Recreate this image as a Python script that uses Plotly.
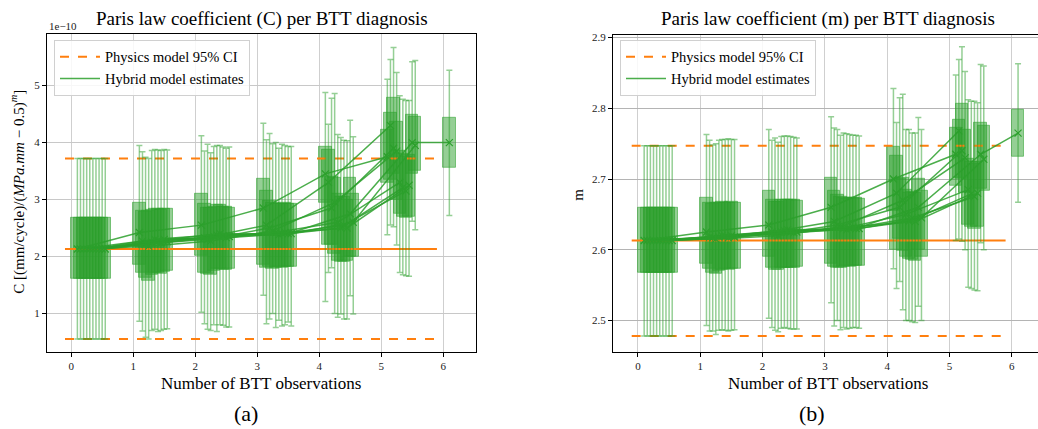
import plotly.graph_objects as go

# ---------------- data ----------------
obs = [0, 1, 2, 3, 4, 5, 6]
traj_ids = [
    [0, 1, 2, 3, 4, 5, 6, 7, 8, 9],
    [0, 1, 2, 3, 4, 5, 6, 7, 8, 9],
    [0, 1, 2, 3, 4, 5, 6, 7, 8, 9],
    [0, 1, 2, 3, 4, 5, 6, 7, 8, 9],
    [0, 1, 2, 3, 4, 5, 6, 7, 8, 9],
    [0, 1, 2, 3, 4, 5, 6, 7, 8, 9],
    [8],
]

# Paris law C (x1e-10)
C_mean = [
    [2.13, 2.13, 2.13, 2.13, 2.13, 2.13, 2.13, 2.13, 2.13, 2.13],
    [2.42, 2.27, 2.22, 2.18, 2.25, 2.30, 2.28, 2.24, 2.30, 2.26],
    [2.55, 2.33, 2.30, 2.27, 2.35, 2.38, 2.40, 2.36, 2.33, 2.35],
    [2.85, 2.55, 2.50, 2.45, 2.42, 2.38, 2.40, 2.42, 2.40, 2.40],
    [3.45, 3.30, 2.85, 2.95, 2.60, 2.50, 2.55, 2.50, 2.75, 2.60],
    [3.75, 4.30, 3.90, 3.85, 3.30, 3.21, 3.15, 3.25, 4.00, 3.95],
    [4.00],
]
C_q1 = [
    [1.60, 1.60, 1.60, 1.60, 1.60, 1.60, 1.60, 1.60, 1.60, 1.60],
    [1.85, 1.72, 1.62, 1.58, 1.68, 1.72, 1.72, 1.70, 1.73, 1.74],
    [2.02, 1.72, 1.70, 1.68, 1.75, 1.78, 1.78, 1.76, 1.77, 1.78],
    [1.85, 1.80, 1.82, 1.78, 1.80, 1.82, 1.80, 1.81, 1.82, 1.82],
    [2.95, 2.20, 2.20, 2.05, 1.92, 1.90, 1.90, 1.92, 2.00, 2.00],
    [3.30, 3.35, 3.45, 3.00, 2.75, 2.70, 2.68, 2.70, 3.45, 3.50],
    [3.55],
]
C_q3 = [
    [2.68, 2.68, 2.68, 2.68, 2.68, 2.68, 2.68, 2.68, 2.68, 2.68],
    [2.95, 2.80, 2.78, 2.80, 2.82, 2.84, 2.83, 2.82, 2.84, 2.83],
    [3.10, 2.92, 2.85, 2.86, 2.88, 2.90, 2.90, 2.88, 2.87, 2.86],
    [3.37, 3.16, 2.98, 2.95, 2.93, 2.92, 2.93, 2.94, 2.92, 2.92],
    [3.93, 3.88, 3.40, 3.38, 3.10, 3.05, 3.05, 3.00, 3.38, 3.10],
    [4.22, 4.52, 4.78, 4.37, 3.85, 3.80, 3.75, 3.78, 4.48, 4.45],
    [4.43],
]
C_lo = [
    [0.55, 0.55, 0.55, 0.55, 0.55, 0.55, 0.55, 0.55, 0.55, 0.55],
    [0.86, 0.69, 0.58, 0.55, 0.70, 0.72, 0.68, 0.70, 0.72, 0.73],
    [1.02, 0.82, 0.72, 0.70, 0.80, 0.68, 0.80, 0.79, 0.76, 0.76],
    [1.32, 0.82, 0.90, 1.00, 0.75, 0.88, 0.78, 0.80, 0.85, 0.78],
    [1.21, 1.72, 1.80, 1.00, 0.93, 0.99, 0.90, 0.90, 1.31, 0.99],
    [2.38, 2.55, 2.52, 2.20, 1.72, 1.68, 1.66, 1.65, 2.62, 2.47],
    [2.72],
]
C_hi = [
    [3.72, 3.72, 3.72, 3.72, 3.72, 3.72, 3.72, 3.72, 3.72, 3.72],
    [3.95, 3.84, 3.74, 3.72, 3.86, 3.88, 3.87, 3.86, 3.88, 3.87],
    [4.12, 3.85, 3.97, 3.82, 3.93, 3.95, 3.95, 3.92, 3.90, 3.92],
    [4.34, 4.05, 4.16, 3.98, 4.00, 3.90, 3.97, 3.95, 3.93, 3.93],
    [4.88, 4.32, 4.78, 4.86, 4.14, 4.09, 4.04, 4.03, 4.39, 4.10],
    [5.11, 5.46, 5.67, 5.23, 4.82, 4.76, 4.74, 4.74, 5.42, 5.44],
    [5.27],
]
C_phys = [0.55, 2.13, 3.72]   # lower CI, mean, upper CI

# Paris law m
m_mean = [
    [2.613, 2.613, 2.613, 2.613, 2.613, 2.613, 2.613, 2.613, 2.613, 2.613],
    [2.625, 2.618, 2.617, 2.615, 2.618, 2.620, 2.619, 2.617, 2.620, 2.618],
    [2.635, 2.625, 2.622, 2.620, 2.625, 2.627, 2.628, 2.625, 2.624, 2.625],
    [2.660, 2.640, 2.635, 2.632, 2.630, 2.628, 2.630, 2.632, 2.630, 2.630],
    [2.700, 2.680, 2.660, 2.670, 2.650, 2.640, 2.645, 2.640, 2.660, 2.645],
    [2.735, 2.768, 2.740, 2.730, 2.685, 2.679, 2.675, 2.680, 2.735, 2.728],
    [2.765],
]
m_q1 = [
    [2.567, 2.567, 2.567, 2.567, 2.567, 2.567, 2.567, 2.567, 2.567, 2.567],
    [2.580, 2.573, 2.568, 2.566, 2.570, 2.572, 2.573, 2.572, 2.573, 2.573],
    [2.590, 2.575, 2.572, 2.571, 2.574, 2.575, 2.575, 2.574, 2.575, 2.576],
    [2.580, 2.576, 2.575, 2.574, 2.576, 2.577, 2.576, 2.577, 2.578, 2.578],
    [2.655, 2.600, 2.615, 2.598, 2.590, 2.587, 2.586, 2.585, 2.600, 2.590],
    [2.690, 2.702, 2.700, 2.680, 2.635, 2.632, 2.630, 2.633, 2.686, 2.684],
    [2.731],
]
m_q3 = [
    [2.660, 2.660, 2.660, 2.660, 2.660, 2.660, 2.660, 2.660, 2.660, 2.660],
    [2.674, 2.667, 2.665, 2.667, 2.667, 2.668, 2.667, 2.667, 2.668, 2.667],
    [2.683, 2.671, 2.668, 2.668, 2.670, 2.671, 2.671, 2.670, 2.670, 2.669],
    [2.702, 2.683, 2.678, 2.675, 2.673, 2.672, 2.673, 2.674, 2.673, 2.672],
    [2.745, 2.733, 2.700, 2.702, 2.685, 2.680, 2.682, 2.680, 2.700, 2.683],
    [2.772, 2.784, 2.807, 2.770, 2.728, 2.725, 2.722, 2.724, 2.779, 2.775],
    [2.798],
]
m_lo = [
    [2.478, 2.478, 2.478, 2.478, 2.478, 2.478, 2.478, 2.478, 2.478, 2.478],
    [2.493, 2.485, 2.485, 2.480, 2.486, 2.487, 2.486, 2.485, 2.486, 2.487],
    [2.503, 2.490, 2.486, 2.484, 2.489, 2.490, 2.489, 2.488, 2.488, 2.488],
    [2.525, 2.492, 2.500, 2.487, 2.490, 2.488, 2.489, 2.490, 2.490, 2.489],
    [2.573, 2.545, 2.555, 2.515, 2.500, 2.500, 2.498, 2.497, 2.520, 2.500],
    [2.613, 2.615, 2.612, 2.600, 2.547, 2.545, 2.543, 2.542, 2.610, 2.600],
    [2.667],
]
m_hi = [
    [2.747, 2.747, 2.747, 2.747, 2.747, 2.747, 2.747, 2.747, 2.747, 2.747],
    [2.763, 2.755, 2.748, 2.750, 2.755, 2.756, 2.756, 2.757, 2.756, 2.756],
    [2.770, 2.755, 2.758, 2.752, 2.760, 2.761, 2.761, 2.760, 2.759, 2.758],
    [2.788, 2.772, 2.770, 2.762, 2.765, 2.764, 2.763, 2.762, 2.762, 2.761],
    [2.828, 2.780, 2.815, 2.820, 2.770, 2.770, 2.765, 2.765, 2.787, 2.770],
    [2.847, 2.869, 2.887, 2.852, 2.812, 2.810, 2.810, 2.808, 2.862, 2.860],
    [2.863],
]
m_phys = [2.478, 2.613, 2.747]

phys_x = [-0.1, 5.9]

# ---------------- style ----------------
GREEN = "#2ca02c"
ORANGE = "#ff7f0e"
FONT = "Liberation Serif"
W, H = 1038, 429

fig = go.Figure()


def add_panel(xa, ya, legend, mean, q1, q3, lo, hi, phys):
    pos_all, mean_all, q1_all, iqr_all, up_all, dn_all = [], [], [], [], [], []
    traj_pts = {}
    for gi, k in enumerate(obs):
        for r, tid in enumerate(traj_ids[gi]):
            p = k + 0.1 + 0.05 * r
            pos_all.append(p)
            mean_all.append(mean[gi][r])
            q1_all.append(q1[gi][r])
            iqr_all.append(q3[gi][r] - q1[gi][r])
            up_all.append(hi[gi][r] - mean[gi][r])
            dn_all.append(mean[gi][r] - lo[gi][r])
            traj_pts.setdefault(tid, []).append((p, mean[gi][r]))

    fig.add_trace(go.Scatter(x=phys_x, y=[phys[2], phys[2]], mode="lines",
                             line=dict(color=ORANGE, width=2, dash="dash"),
                             name="Physics model 95% CI", legend=legend,
                             showlegend=True, xaxis=xa, yaxis=ya, hoverinfo="skip"))
    fig.add_trace(go.Scatter(x=phys_x, y=[phys[0], phys[0]], mode="lines",
                             line=dict(color=ORANGE, width=2, dash="dash"),
                             showlegend=False, xaxis=xa, yaxis=ya, hoverinfo="skip"))
    fig.add_trace(go.Scatter(x=phys_x, y=[phys[1], phys[1]], mode="lines",
                             line=dict(color=ORANGE, width=2),
                             showlegend=False, xaxis=xa, yaxis=ya, hoverinfo="skip"))

    fig.add_trace(go.Bar(x=pos_all, y=iqr_all, base=q1_all, width=0.2,
                         marker=dict(color="rgba(44,160,44,0.5)",
                                     line=dict(color="rgba(44,160,44,0.55)", width=1)),
                         showlegend=False, xaxis=xa, yaxis=ya, hoverinfo="skip"))
    fig.add_trace(go.Scatter(x=pos_all, y=mean_all, mode="markers",
                             marker=dict(symbol="x-thin-open", size=7, color=GREEN,
                                         line=dict(color=GREEN, width=1.2)),
                             error_y=dict(type="data", symmetric=False, array=up_all,
                                          arrayminus=dn_all, color="rgba(44,160,44,0.5)",
                                          thickness=1.5, width=3),
                             showlegend=False, xaxis=xa, yaxis=ya, hoverinfo="skip"))
    first = True
    for tid in sorted(traj_pts):
        pts = traj_pts[tid]
        fig.add_trace(go.Scatter(x=[p[0] for p in pts], y=[p[1] for p in pts],
                                 mode="lines", line=dict(color=GREEN, width=1.5),
                                 opacity=0.85,
                                 name="Hybrid model estimates", legend=legend,
                                 showlegend=first, xaxis=xa, yaxis=ya, hoverinfo="skip"))
        first = False


add_panel("x", "y", "legend", C_mean, C_q1, C_q3, C_lo, C_hi, C_phys)
add_panel("x2", "y2", "legend2", m_mean, m_q1, m_q3, m_lo, m_hi, m_phys)

ydom = [1 - 351 / H, 1 - 31 / H]
axis_common = dict(showline=True, linecolor="black", linewidth=1.2, ticks="outside",
                   ticklen=4, tickcolor="black", tickfont=dict(family=FONT, size=11, color="#222"),
                   zeroline=False, showgrid=True)

legend_common = dict(xanchor="left", yanchor="top",
                     bgcolor="rgba(255,255,255,0.85)", bordercolor="#d0d0d0", borderwidth=1,
                     font=dict(family=FONT, size=14.5, color="black"), tracegroupgap=0,
                     itemwidth=40)

fig.update_layout(
    width=W, height=H, margin=dict(l=0, r=0, t=0, b=0),
    paper_bgcolor="white", plot_bgcolor="white",
    barmode="overlay", bargap=0,
    font=dict(family=FONT, color="black"),
    xaxis=dict(domain=[47 / W, 476 / W], range=[-0.39, 6.53], tickmode="array",
               tickvals=obs, mirror=True, gridcolor="#cfcfcf", gridwidth=1.2,
               anchor="y", **axis_common),
    yaxis=dict(domain=ydom, range=[0.33, 5.91], tickvals=[1, 2, 3, 4, 5],
               mirror=True, gridcolor="#c8c8c8", anchor="x", **axis_common),
    xaxis2=dict(domain=[613 / W, 1.0], range=[-0.4, 6.42], tickmode="array",
                tickvals=obs, mirror=True, gridcolor="#cfcfcf", gridwidth=1.2,
                anchor="y2", **axis_common),
    yaxis2=dict(domain=[1 - 351 / H, 1 - 32 / H], range=[2.456, 2.904],
                tickvals=[2.5, 2.6, 2.7, 2.8, 2.9], ticktext=["2.5", "2.6", "2.7", "2.8", "2.9"],
                mirror=False, gridcolor="#b4b4b4", gridwidth=1.2, anchor="x2", **axis_common),
    legend=dict(x=54 / W, y=1 - 37 / H, **legend_common),
    legend2=dict(x=620 / W, y=1 - 37 / H, **legend_common),
)

ann = [
    dict(text="Paris law coefficient (C) per BTT diagnosis", x=261.5 / W, y=1 - 16 / H, size=19),
    dict(text="Paris law coefficient (m) per BTT diagnosis", x=828 / W, y=1 - 16 / H, size=19),
    dict(text="Number of BTT observations", x=261 / W, y=1 - 383 / H, size=17),
    dict(text="Number of BTT observations", x=828 / W, y=1 - 383 / H, size=17),
    dict(text="(a)", x=246 / W, y=1 - 413 / H, size=22),
    dict(text="(b)", x=812 / W, y=1 - 413 / H, size=22),
]
for a in ann:
    fig.add_annotation(text=a["text"], x=a["x"], y=a["y"], xref="paper", yref="paper",
                       showarrow=False, xanchor="center", yanchor="middle",
                       font=dict(family=FONT, size=a["size"], color="black"))

fig.add_annotation(text="1e−10", x=47 / W, y=1 - 23 / H, xref="paper", yref="paper",
                   showarrow=False, xanchor="left", yanchor="middle",
                   font=dict(family=FONT, size=11, color="#222"))
fig.add_annotation(text="C [(mm/cycle)/(<i>MPa.mm</i> − 0.5)<sup><i>m</i></sup>]",
                   x=18 / W, y=1 - 190 / H, xref="paper", yref="paper", textangle=-90,
                   showarrow=False, xanchor="center", yanchor="middle",
                   font=dict(family=FONT, size=15, color="black"))
fig.add_annotation(text="m", x=578 / W, y=1 - 193 / H, xref="paper", yref="paper",
                   textangle=-90, showarrow=False, xanchor="center", yanchor="middle",
                   font=dict(family=FONT, size=15, color="black"))

fig.write_html("out.html", config={"displayModeBar": False},
               post_script="document.body.style.margin='0';document.body.style.overflow='hidden';")
